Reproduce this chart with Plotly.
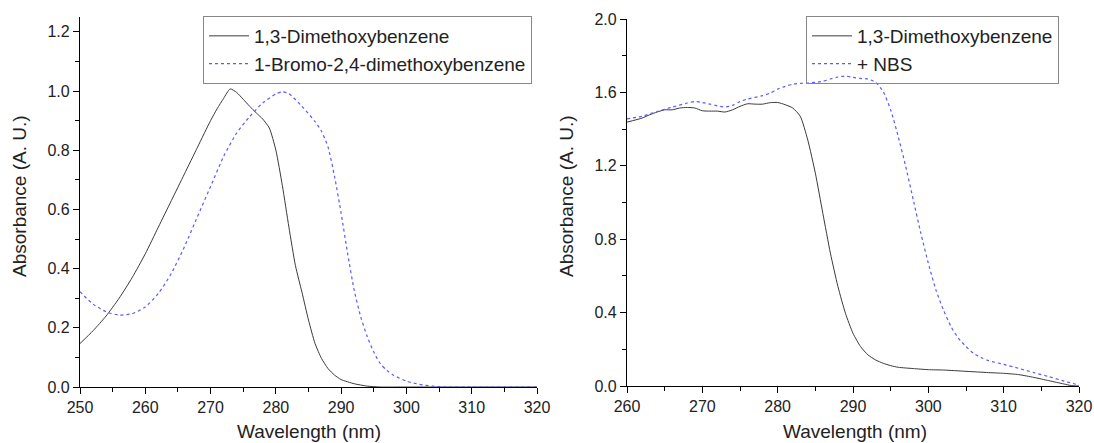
import plotly.graph_objects as go

# ---- Left panel data ----
wl_dmb_left = [250, 252, 254, 256, 258, 260, 262, 264, 266, 268, 270, 271, 272, 273, 274, 275, 276, 277, 278, 279,
               280, 281, 282, 283, 284, 285, 286, 287, 288, 289, 290, 292, 294, 296, 300, 310, 320]
abs_dmb_left = [0.147, 0.19, 0.24, 0.30, 0.37, 0.45, 0.54, 0.63, 0.72, 0.81, 0.90, 0.94, 0.975, 1.007, 0.995, 0.972,
                0.948, 0.926, 0.905, 0.875, 0.80, 0.68, 0.54, 0.41, 0.32, 0.226, 0.147, 0.096, 0.062, 0.04, 0.025,
                0.011, 0.003, 0.0, 0.0, 0.0, 0.0]

wl_br = [250, 252, 254, 256, 258, 260, 262, 264, 266, 268, 270, 272, 274, 276, 278, 280, 281, 282, 284, 286, 287,
         288, 289, 290, 291, 292, 293, 294, 295, 296, 297, 298, 300, 302, 304, 306, 310, 320]
abs_br = [0.322, 0.28, 0.254, 0.243, 0.248, 0.27, 0.316, 0.384, 0.474, 0.576, 0.677, 0.779, 0.858, 0.914, 0.96,
          0.99, 0.997, 0.991, 0.948, 0.897, 0.864, 0.81, 0.71, 0.587, 0.45, 0.327, 0.237, 0.17, 0.118, 0.079,
          0.056, 0.04, 0.02, 0.009, 0.003, 0.0, 0.0, 0.0]

# ---- Right panel data ----
wl_dmb_right = [260, 262, 263, 264, 265, 266, 267, 268, 269, 270, 271, 272, 273, 274, 275, 276, 277, 278, 279, 280,
                281, 282, 283, 284, 285, 286, 287, 288, 289, 290, 291, 292, 293, 294, 295, 296, 298, 300, 302, 305,
                308, 310, 312, 314, 316, 318, 319, 320]
abs_dmb_right = [1.438, 1.46, 1.478, 1.493, 1.505, 1.505, 1.515, 1.518, 1.515, 1.50, 1.498, 1.498, 1.493, 1.505,
                 1.524, 1.538, 1.536, 1.536, 1.544, 1.545, 1.533, 1.515, 1.47, 1.34, 1.16, 0.94, 0.724, 0.542,
                 0.396, 0.287, 0.215, 0.169, 0.142, 0.124, 0.111, 0.102, 0.095, 0.089, 0.087, 0.08, 0.073, 0.069,
                 0.062, 0.047, 0.029, 0.011, 0.002, 0.0]

wl_nbs = [260, 262, 264, 266, 268, 269, 270, 271, 272, 273, 274, 275, 276, 278, 279, 280, 281, 282, 283, 284, 285,
          286, 287, 288, 289, 290, 291, 292, 293, 294, 295, 296, 297, 298, 299, 300, 301, 302, 303, 304, 305, 306,
          307, 308, 310, 312, 314, 316, 318, 320]
abs_nbs = [1.456, 1.47, 1.496, 1.52, 1.542, 1.55, 1.545, 1.536, 1.527, 1.52, 1.529, 1.55, 1.564, 1.582, 1.596,
           1.618, 1.633, 1.645, 1.649, 1.651, 1.655, 1.66, 1.673, 1.684, 1.689, 1.682, 1.676, 1.673, 1.655, 1.605,
           1.505, 1.36, 1.196, 1.015, 0.833, 0.669, 0.524, 0.415, 0.324, 0.26, 0.215, 0.178, 0.155, 0.138, 0.118,
           0.096, 0.073, 0.051, 0.027, 0.005]

left_ticks_y = [0.0, 0.2, 0.4, 0.6, 0.8, 1.0, 1.2]
right_ticks_y = [0.0, 0.4, 0.8, 1.2, 1.6, 2.0]

BLACK = "#3a3a3a"
BLUE = "rgb(90,90,255)"
FONT = "Liberation Sans, Arial, sans-serif"

W, H = 1094, 443
fig = go.Figure()

fig.add_trace(go.Scatter(x=wl_dmb_left, y=abs_dmb_left, mode="lines", name="1,3-Dimethoxybenzene",
                         line=dict(color=BLACK, width=1, shape="spline", smoothing=0.6),
                         xaxis="x", yaxis="y", legend="legend"))
fig.add_trace(go.Scatter(x=wl_br, y=abs_br, mode="lines", name="1-Bromo-2,4-dimethoxybenzene",
                         line=dict(color=BLUE, width=1.2, dash="dot", shape="spline", smoothing=0.6),
                         xaxis="x", yaxis="y", legend="legend"))
fig.add_trace(go.Scatter(x=wl_dmb_right, y=abs_dmb_right, mode="lines", name="1,3-Dimethoxybenzene",
                         line=dict(color=BLACK, width=1, shape="spline", smoothing=0.6),
                         xaxis="x2", yaxis="y2", legend="legend2"))
fig.add_trace(go.Scatter(x=wl_nbs, y=abs_nbs, mode="lines", name="+ NBS",
                         line=dict(color=BLUE, width=1.2, dash="dot", shape="spline", smoothing=0.6),
                         xaxis="x2", yaxis="y2", legend="legend2"))

def px_x(p):
    return p / W

def px_y(p):
    return 1 - p / H

axis_common = dict(showgrid=False, zeroline=False, showline=True, linecolor="black", linewidth=1.2,
                   ticks="outside", ticklen=6, tickwidth=1.2, tickcolor="black",
                   tickfont=dict(family=FONT, size=16, color="#222"), mirror=False,
                   ticklabeloverflow="allow")

legend_common = dict(xanchor="left", yanchor="top", bgcolor="rgba(255,255,255,0)",
                     bordercolor="#888", borderwidth=1, font=dict(family=FONT, size=19, color="#222"),
                     tracegroupgap=0, itemwidth=40)

fig.update_layout(
    width=W, height=H,
    margin=dict(l=0, r=0, t=0, b=0, autoexpand=False),
    paper_bgcolor="white", plot_bgcolor="white",
    font=dict(family=FONT, color="#222"),
    xaxis=dict(domain=[px_x(80), px_x(537)], range=[250, 320], dtick=10, tick0=250,
               anchor="y", minor=dict(dtick=5, ticklen=4, ticks="outside", tickcolor="black"), **axis_common),
    yaxis=dict(domain=[px_y(387), px_y(17)], range=[0, 1.25], tickvals=left_ticks_y, tickformat=".1f",
               anchor="x", minor=dict(dtick=0.1, ticklen=4, ticks="outside", tickcolor="black"), **axis_common),
    xaxis2=dict(domain=[px_x(627), px_x(1079)], range=[260, 320], dtick=10, tick0=260,
                anchor="y2", minor=dict(dtick=5, ticklen=4, ticks="outside", tickcolor="black"), **axis_common),
    yaxis2=dict(domain=[px_y(386), px_y(19)], range=[0, 2.0], tickvals=right_ticks_y, tickformat=".1f",
                anchor="x2", minor=dict(dtick=0.2, ticklen=4, ticks="outside", tickcolor="black"), **axis_common),
    legend=dict(x=px_x(203), y=px_y(16), **legend_common),
    legend2=dict(x=px_x(806), y=px_y(16), **legend_common),
    annotations=[
        dict(text="Wavelength (nm)", x=(px_x(80) + px_x(537)) / 2, y=px_y(431), xref="paper", yref="paper",
             xanchor="center", yanchor="middle", showarrow=False, font=dict(family=FONT, size=19, color="#222")),
        dict(text="Wavelength (nm)", x=(px_x(627) + px_x(1083)) / 2, y=px_y(431), xref="paper", yref="paper",
             xanchor="center", yanchor="middle", showarrow=False, font=dict(family=FONT, size=19, color="#222")),
        dict(text="Absorbance (A. U.)", x=px_x(19), y=px_y(196), xref="paper", yref="paper", textangle=-90,
             xanchor="center", yanchor="middle", showarrow=False, font=dict(family=FONT, size=19, color="#222")),
        dict(text="Absorbance (A. U.)", x=px_x(566), y=px_y(196), xref="paper", yref="paper", textangle=-90,
             xanchor="center", yanchor="middle", showarrow=False, font=dict(family=FONT, size=19, color="#222")),
    ],
)

fig.write_html("out.html", config={"displayModeBar": False},
               post_script="document.body.style.margin='0px';document.body.style.overflow='hidden';")
